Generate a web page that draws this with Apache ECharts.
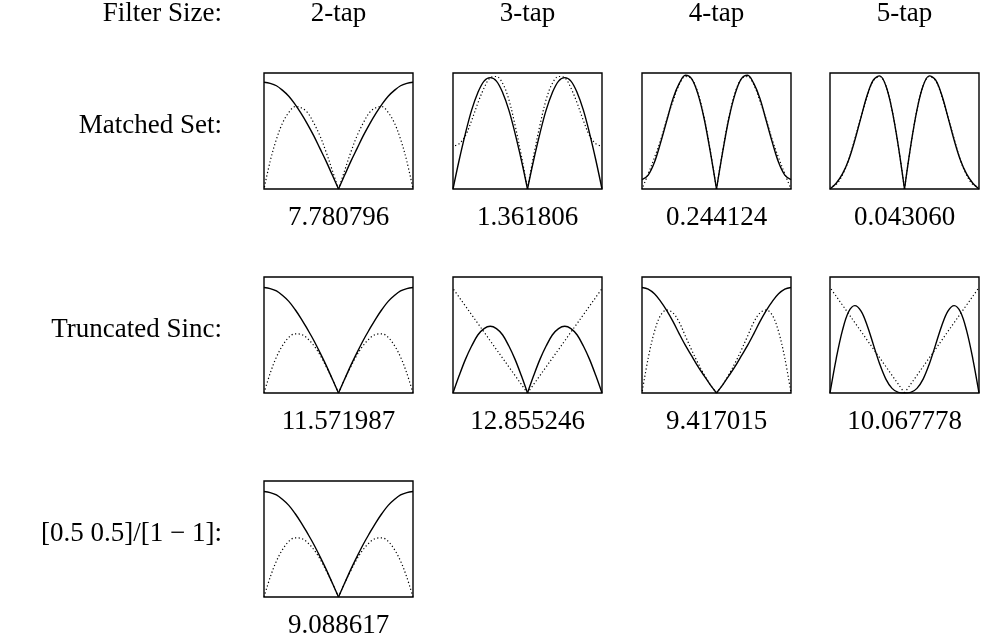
<!DOCTYPE html>
<html>
<head>
<meta charset="utf-8">
<script src="https://cdn.jsdelivr.net/npm/echarts@6/dist/echarts.min.js"></script>
<style>
  html, body { margin: 0; padding: 0; background: #fff; }
  #chart { width: 984px; height: 644px; }
</style>
</head>
<body>
<div id="chart"></div>
<script>
// Normalized frequency |w|/pi, sampled from the centre of a panel (0) out to its edge (1).
// Every response is even, so each curve is drawn as two mirrored halves.
const freq = [0, 0.083, 0.167, 0.25, 0.333, 0.417, 0.5, 0.583, 0.667, 0.75, 0.833, 0.917, 1];

const filterSizes = ['2-tap', '3-tap', '4-tap', '5-tap'];
const rowNames = ['Matched Set:', 'Truncated Sinc:', '[0.5 0.5]/[1 \u2212 1]:'];
const headerLabel = 'Filter Size:';

// Solid: derivative filter magnitude. Dotted: w times prefilter magnitude.
// Values are relative to the panel height (0 = bottom, 1 = top).
const matched2Solid  = [0, 0.12, 0.24, 0.35, 0.46, 0.56, 0.65, 0.73, 0.80, 0.85, 0.89, 0.91, 0.92];
const matched2Dotted = [0, 0.16, 0.32, 0.46, 0.57, 0.66, 0.70, 0.71, 0.66, 0.57, 0.43, 0.24, 0];

const matched3Solid  = [0, 0.25, 0.48, 0.68, 0.83, 0.93, 0.96, 0.93, 0.83, 0.68, 0.48, 0.25, 0];
const matched3Dotted = [0, 0.29, 0.55, 0.77, 0.91, 0.97, 0.96, 0.87, 0.74, 0.59, 0.46, 0.39, 0.37];

const matched4Solid  = [0, 0.32, 0.61, 0.82, 0.95, 0.98, 0.91, 0.78, 0.59, 0.40, 0.23, 0.12, 0.08];
const matched4Dotted = [0, 0.33, 0.62, 0.83, 0.95, 0.97, 0.90, 0.76, 0.60, 0.42, 0.27, 0.13, 0];

const matched5Solid  = [0, 0.37, 0.68, 0.89, 0.975, 0.94, 0.81, 0.62, 0.42, 0.25, 0.13, 0.05, 0];
const matched5Dotted = [0, 0.37, 0.68, 0.89, 0.97, 0.935, 0.80, 0.62, 0.43, 0.25, 0.12, 0.04, 0.02];

const sinc2Solid  = [0, 0.12, 0.24, 0.35, 0.455, 0.55, 0.64, 0.72, 0.79, 0.84, 0.88, 0.90, 0.91];
const sinc2Dotted = [0, 0.12, 0.23, 0.33, 0.41, 0.47, 0.505, 0.51, 0.48, 0.41, 0.31, 0.17, 0];

const sinc3Solid  = [0, 0.15, 0.29, 0.405, 0.50, 0.555, 0.575, 0.555, 0.50, 0.405, 0.29, 0.15, 0];
const sinc3Dotted = [0, 0.075, 0.15, 0.225, 0.30, 0.375, 0.45, 0.525, 0.60, 0.675, 0.75, 0.825, 0.90];

const sinc4Solid  = [0, 0.07, 0.15, 0.23, 0.32, 0.41, 0.51, 0.615, 0.71, 0.79, 0.855, 0.895, 0.91];
const sinc4Dotted = [0, 0.07, 0.16, 0.26, 0.37, 0.49, 0.61, 0.69, 0.715, 0.67, 0.53, 0.30, 0];

const sinc5Solid  = [0, 0.005, 0.04, 0.12, 0.25, 0.415, 0.58, 0.705, 0.753, 0.70, 0.54, 0.295, 0];
const sinc5Dotted = [0, 0.076, 0.152, 0.228, 0.303, 0.379, 0.455, 0.531, 0.607, 0.683, 0.758, 0.834, 0.91];

const simpleSolid  = [0, 0.12, 0.24, 0.35, 0.455, 0.55, 0.64, 0.72, 0.79, 0.84, 0.88, 0.90, 0.91];
const simpleDotted = [0, 0.12, 0.23, 0.33, 0.41, 0.47, 0.505, 0.51, 0.48, 0.41, 0.31, 0.17, 0];

// Error figure printed under each panel
const matchedErrors = [7.780796, 1.361806, 0.244124, 0.043060];
const sincErrors    = [11.571987, 12.855246, 9.417015, 10.067778];
const simpleErrors  = [9.088617];

const panels = [
  { row: 0, col: 0, solid: matched2Solid, dotted: matched2Dotted, error: matchedErrors[0] },
  { row: 0, col: 1, solid: matched3Solid, dotted: matched3Dotted, error: matchedErrors[1] },
  { row: 0, col: 2, solid: matched4Solid, dotted: matched4Dotted, error: matchedErrors[2] },
  { row: 0, col: 3, solid: matched5Solid, dotted: matched5Dotted, error: matchedErrors[3] },
  { row: 1, col: 0, solid: sinc2Solid, dotted: sinc2Dotted, error: sincErrors[0] },
  { row: 1, col: 1, solid: sinc3Solid, dotted: sinc3Dotted, error: sincErrors[1] },
  { row: 1, col: 2, solid: sinc4Solid, dotted: sinc4Dotted, error: sincErrors[2] },
  { row: 1, col: 3, solid: sinc5Solid, dotted: sinc5Dotted, error: sincErrors[3] },
  { row: 2, col: 0, solid: simpleSolid, dotted: simpleDotted, error: simpleErrors[0] }
];

// Page layout
const boxLefts = [264, 453, 642, 830];
const boxTops = [73, 277, 481];
const boxW = 149, boxH = 116;
const FS = 27;
const FONT = FS + 'px "Liberation Serif", "Times New Roman", serif';
const labelRight = 222;
const headerBaseline = 23;
const rowLabelOffset = 62;   // baseline of row label below box top
const errorOffset = 38;      // baseline of error label below box bottom
const mid = (baseline) => baseline - 0.33 * FS;

const solidStyle = { color: '#000', width: 1.4, type: 'solid' };
const dottedStyle = { color: '#000', width: 1.2, type: [1.2, 2.4] };

function half(values, sign) {
  return freq.map((f, i) => [sign * f, values[i]]);
}

const grids = [], xAxes = [], yAxes = [], series = [];
panels.forEach((p, i) => {
  grids.push({
    left: boxLefts[p.col], top: boxTops[p.row], width: boxW, height: boxH,
    show: true, borderColor: '#000', borderWidth: 1.4, backgroundColor: '#fff'
  });
  xAxes.push({ type: 'value', gridIndex: i, min: -1, max: 1, show: false });
  yAxes.push({ type: 'value', gridIndex: i, min: 0, max: 1, show: false });
  [[p.dotted, dottedStyle], [p.solid, solidStyle]].forEach(([vals, ls]) => {
    [-1, 1].forEach(sign => {
      series.push({
        type: 'line', xAxisIndex: i, yAxisIndex: i,
        data: half(vals, sign),
        symbol: 'none', showSymbol: false, smooth: 0.35,
        lineStyle: ls, silent: true, z: 3
      });
    });
  });
});

const texts = [];
function addText(str, x, y, align) {
  texts.push({
    type: 'text', x: x, y: y, silent: true,
    style: { text: str, font: FONT, fill: '#000', align: align, verticalAlign: 'middle' }
  });
}

addText(headerLabel, labelRight, mid(headerBaseline), 'right');
filterSizes.forEach((s, c) => addText(s, boxLefts[c] + boxW / 2, mid(headerBaseline), 'center'));
rowNames.forEach((name, r) => addText(name, labelRight, mid(boxTops[r] + rowLabelOffset), 'right'));
panels.forEach(p => {
  addText(p.error.toFixed(6), boxLefts[p.col] + boxW / 2, mid(boxTops[p.row] + boxH + errorOffset), 'center');
});

const chart = echarts.init(document.getElementById('chart'), null, { renderer: 'canvas' });
chart.setOption({
  animation: false,
  backgroundColor: '#fff',
  grid: grids,
  xAxis: xAxes,
  yAxis: yAxes,
  series: series,
  graphic: texts
});
</script>
</body>
</html>
